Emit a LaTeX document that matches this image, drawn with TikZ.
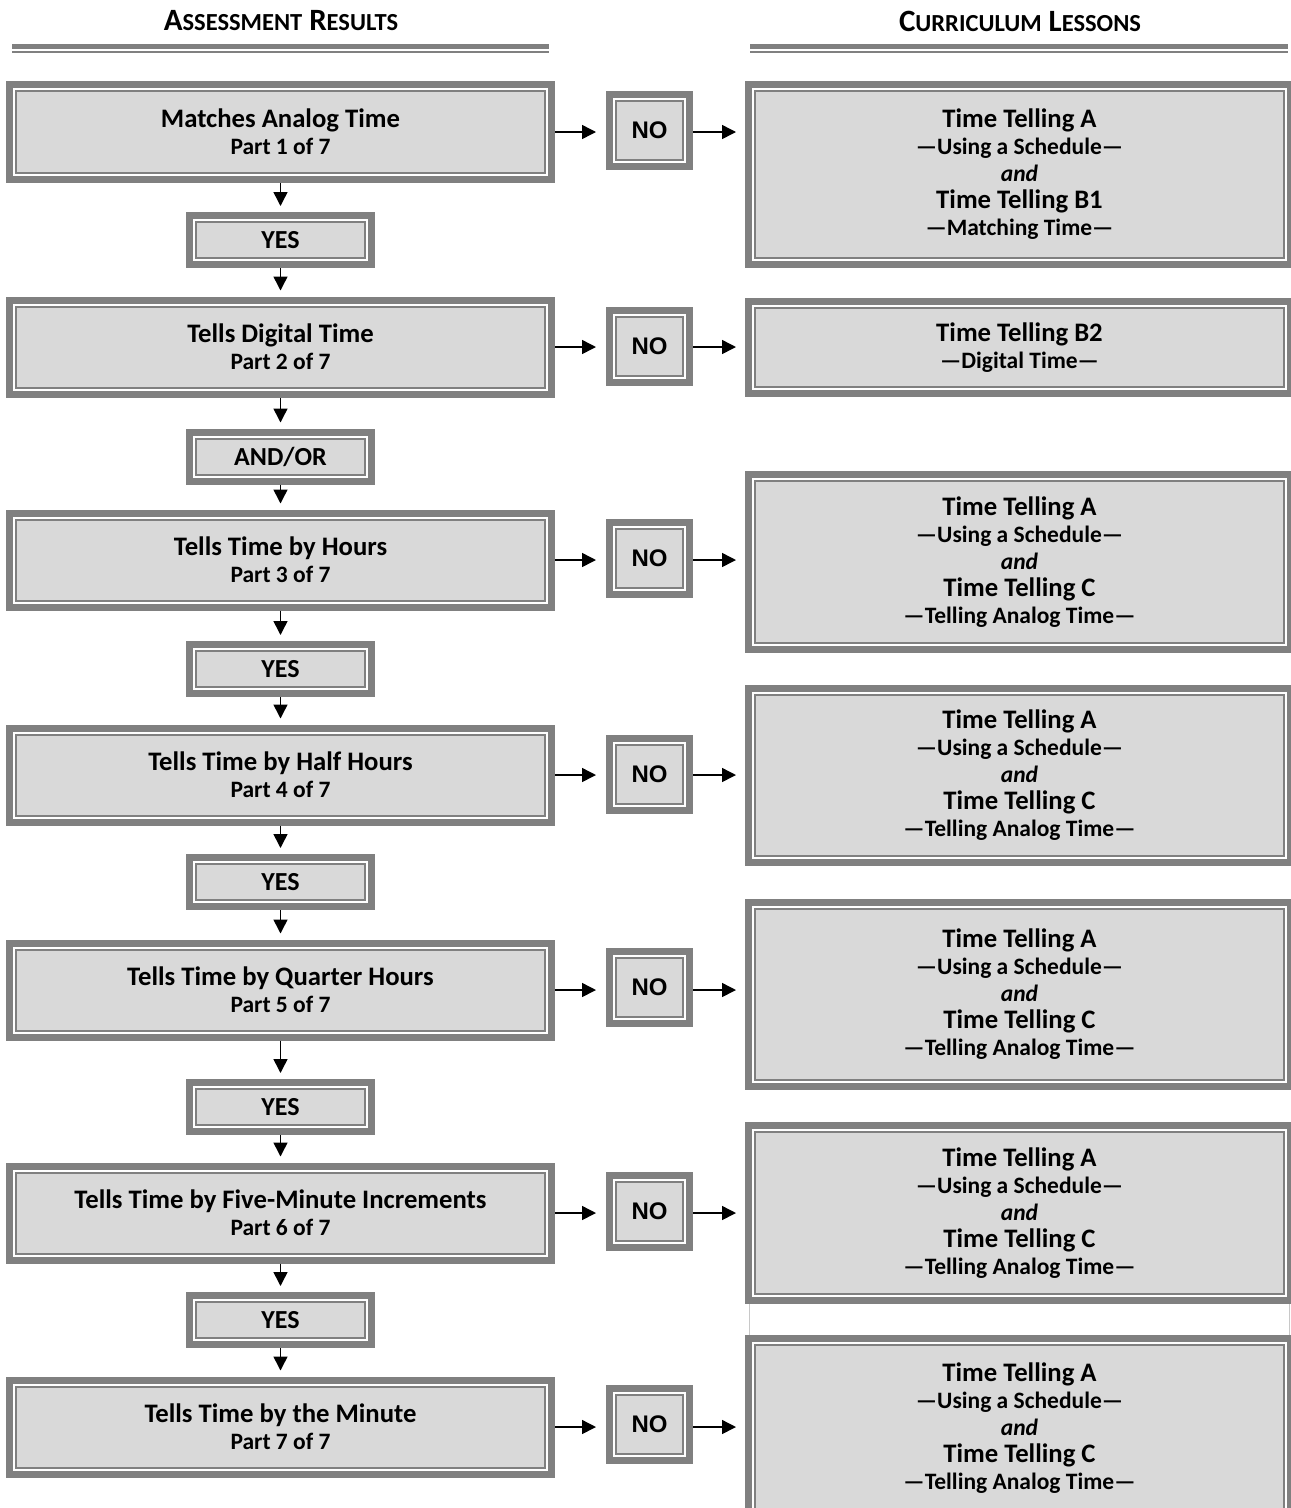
\documentclass[tikz,border=0pt]{standalone}
\usepackage{fontspec}
\setmainfont{Carlito}
\newfontfamily\arialfont{Liberation Sans}
\usetikzlibrary{arrows.meta}
\definecolor{frame}{HTML}{808080}
\definecolor{boxfill}{HTML}{D9D9D9}
\definecolor{thinline}{HTML}{C8C8C8}
\newcommand{\ttl}[1]{{\fontsize{26.7}{27}\selectfont #1}}
\newcommand{\smc}[1]{{\fontsize{24.5}{27}\selectfont #1}}
\newcommand{\frameit}[1]{\draw[outerframe] ([shift={(-5.5pt,-5.5pt)}]#1.south west) rectangle ([shift={(5.5pt,5.5pt)}]#1.north east);}
\tikzset{
  box/.style={draw=frame, line width=2pt, fill=boxfill, inner sep=0pt, align=center,
    font=\bfseries\fontsize{23.5}{27}\selectfont, text=black},
  lbox/.style={box, minimum width=529pt, minimum height=81pt},
  rbox/.style={box, minimum width=529pt},
  cbox/.style={box, minimum width=169pt, minimum height=36pt, font=\bfseries\fontsize{26}{27}\selectfont},
  nbox/.style={box, minimum width=67pt, minimum height=59pt, font=\arialfont\bfseries\fontsize{24}{27}\selectfont},
  outerframe/.style={draw=frame, line width=7pt},
  arr/.style={line width=1.5pt, -{Triangle[length=14pt,width=14pt]}},
  head/.style={font=\bfseries\fontsize{31}{33}\selectfont, inner sep=0pt},
}
\begin{document}
\begin{tikzpicture}[x=1pt, y=-1pt]
\useasboundingbox (0,0) rectangle (1291,1508);
% headers
\node[head] (h1) at (281,21) {A\smc{SSESSMENT} R\smc{ESULTS}};
\node[head] (h2) at (1020,21) {C\smc{URRICULUM} L\smc{ESSONS}};
\draw[frame, line width=5pt] (12,46.5) -- (549,46.5);
\draw[frame, line width=2pt] (12,51.5) -- (549,51.5);
\draw[frame, line width=5pt] (750,46.5) -- (1288,46.5);
\draw[frame, line width=2pt] (750,51.5) -- (1288,51.5);
% left boxes
\node[lbox, minimum height=82pt] (L1) at (280.5,132) {\ttl{Matches Analog Time}\\Part 1 of 7};
\node[lbox] (L2) at (280.5,347) {\ttl{Tells Digital Time}\\Part 2 of 7};
\node[lbox] (L3) at (280.5,560) {\ttl{Tells Time by Hours}\\Part 3 of 7};
\node[lbox] (L4) at (280.5,775) {\ttl{Tells Time by Half Hours}\\Part 4 of 7};
\node[lbox] (L5) at (280.5,990) {\ttl{Tells Time by Quarter Hours}\\Part 5 of 7};
\node[lbox] (L6) at (280.5,1213) {\ttl{Tells Time by Five-Minute Increments}\\Part 6 of 7};
\node[lbox] (L7) at (280.5,1427) {\ttl{Tells Time by the Minute}\\Part 7 of 7};
% connector boxes
\node[cbox] (Y1) at (280.5,240) {YES};
\node[cbox] (A1) at (280.5,456.5) {AND/OR};
\node[cbox] (Y2) at (280.5,669) {YES};
\node[cbox] (Y3) at (280.5,882) {YES};
\node[cbox] (Y4) at (280.5,1107) {YES};
\node[cbox] (Y5) at (280.5,1320) {YES};
% NO boxes
\node[nbox] (N1) at (649.5,130) {NO};
\node[nbox] (N2) at (649.5,346) {NO};
\node[nbox] (N3) at (649.5,558) {NO};
\node[nbox] (N4) at (649.5,774) {NO};
\node[nbox] (N5) at (649.5,987) {NO};
\node[nbox] (N6) at (649.5,1211) {NO};
\node[nbox] (N7) at (649.5,1424) {NO};
% right boxes
\node[rbox, minimum height=167pt] (R1) at (1019.5,174.5) {\ttl{Time Telling A}\\—Using a Schedule—\\\textit{and}\\\ttl{Time Telling B1}\\—Matching Time—};
\node[rbox, minimum height=79pt] (R2) at (1019.5,347.5) {\ttl{Time Telling B2}\\—Digital Time—};
\node[rbox, minimum height=162pt] (R3) at (1019.5,562) {\ttl{Time Telling A}\\—Using a Schedule—\\\textit{and}\\\ttl{Time Telling C}\\—Telling Analog Time—};
\node[rbox, minimum height=161pt] (R4) at (1019.5,775.5) {\ttl{Time Telling A}\\—Using a Schedule—\\\textit{and}\\\ttl{Time Telling C}\\—Telling Analog Time—};
\node[rbox, minimum height=171pt] (R5) at (1019.5,994.5) {\ttl{Time Telling A}\\—Using a Schedule—\\\textit{and}\\\ttl{Time Telling C}\\—Telling Analog Time—};
\node[rbox, minimum height=162pt] (R6) at (1019.5,1213) {\ttl{Time Telling A}\\—Using a Schedule—\\\textit{and}\\\ttl{Time Telling C}\\—Telling Analog Time—};
\node[rbox, minimum height=166pt] (R7) at (1019.5,1428) {\ttl{Time Telling A}\\—Using a Schedule—\\\textit{and}\\\ttl{Time Telling C}\\—Telling Analog Time—};
% outer frames
\foreach \n in {L1,L2,L3,L4,L5,L6,L7,Y1,A1,Y2,Y3,Y4,Y5,N1,N2,N3,N4,N5,N6,N7,R1,R2,R3,R4,R5,R6,R7}{\frameit{\n}}
% thin lines between R6 and R7
\draw[thinline, line width=1pt] ([xshift=-5pt,yshift=-9pt]R6.south west) -- ([xshift=-5pt,yshift=9pt]R7.north west);
\draw[thinline, line width=1pt] ([xshift=4pt,yshift=-9pt]R6.south east) -- ([xshift=4pt,yshift=9pt]R7.north east);
% vertical arrows
\foreach \a/\b in {L1/Y1,Y1/L2,L2/A1,A1/L3,L3/Y2,Y2/L4,L4/Y3,Y3/L5,L5/Y4,Y4/L6,L6/Y5,Y5/L7}{
  \draw[arr, shorten <=9pt, shorten >=15pt] (\a.south) -- (\b.north);
}
% horizontal arrows
\foreach \i in {1,...,7}{
  \draw[arr, shorten <=9pt, shorten >=19pt] (L\i.east) -- (L\i.east -| N\i.west);
  \draw[arr, shorten <=9pt, shorten >=18pt] (N\i.east |- L\i.east) -- (L\i.east -| R\i.west);
}
\end{tikzpicture}
\end{document}
